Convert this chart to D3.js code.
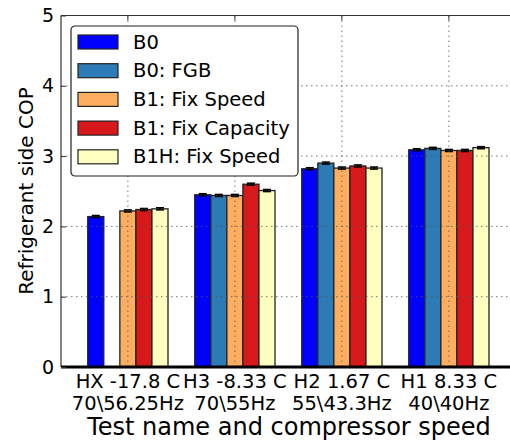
<!DOCTYPE html>
<html>
<head>
<meta charset="utf-8">
<script src="https://cdn.jsdelivr.net/npm/d3@7"></script>
<style>
  body { margin: 0; background: #fff; }
  svg text { font-family: "DejaVu Sans", sans-serif; fill: #000; }
</style>
</head>
<body>
<div id="chart"></div>
<script>
// data
var tests = ["HX -17.8 C", "H3 -8.33 C", "H2 1.67 C", "H1 8.33 C"];
var speeds = ["70\\56.25Hz", "70\\55Hz", "55\\43.3Hz", "40\\40Hz"];
var seriesNames = ["B0", "B0: FGB", "B1: Fix Speed", "B1: Fix Capacity", "B1H: Fix Speed"];
var seriesColors = ["#0000ff", "#2c7bb6", "#fdae61", "#d7191c", "#ffffbf"];
var b0 = [2.14, 2.45, 2.82, 3.09];
var b0fgb = [null, 2.44, 2.90, 3.11];
var b1FixSpeed = [2.22, 2.44, 2.83, 3.08];
var b1FixCap = [2.24, 2.60, 2.86, 3.08];
var b1hFixSpeed = [2.25, 2.51, 2.83, 3.12];
var err = [0.015, 0.015, 0.015, 0.015];
var yTicks = [0, 1, 2, 3, 4, 5];

var series = [b0, b0fgb, b1FixSpeed, b1FixCap, b1hFixSpeed];

var W = 510, H = 440;
var margin = {top: 15.5, left: 61, bottom: 73};
var barW = 0.15;

var svg = d3.select("#chart").append("svg")
    .attr("width", W)
    .attr("height", H);

// x in "group units": group i starts at i, bar j at i + j*barW
var x = d3.scaleLinear()
    .domain([-0.25, 4.0])
    .range([margin.left, margin.left + 4.25 * 107]);
var y = d3.scaleLinear()
    .domain([0, 5])
    .range([H - margin.bottom, margin.top]);

var tickPos = tests.map(function(d, i) { return i + 2.5 * barW; });

// bars
series.forEach(function(vals, j) {
    var data = vals.map(function(v, i) { return {i: i, v: v}; })
        .filter(function(d) { return d.v != null; });
    var g = svg.append("g");
    g.selectAll("rect")
        .data(data)
        .enter().append("rect")
        .attr("x", function(d) { return x(d.i + j * barW); })
        .attr("width", x(barW) - x(0))
        .attr("y", function(d) { return y(d.v); })
        .attr("height", function(d) { return y(0) - y(d.v); })
        .attr("fill", seriesColors[j])
        .attr("stroke", "#222")
        .attr("stroke-width", 1.3);
    // error bars
    var cx = function(d) { return x(d.i + (j + 0.5) * barW); };
    g.selectAll("line.err")
        .data(data)
        .enter().append("line")
        .attr("x1", cx).attr("x2", cx)
        .attr("y1", function(d) { return y(d.v - err[d.i]); })
        .attr("y2", function(d) { return y(d.v + err[d.i]); })
        .attr("stroke", "#000").attr("stroke-width", 1.5);
    ["-", "+"].forEach(function(s) {
        g.selectAll("line.cap" + (s == "-" ? "lo" : "hi"))
            .data(data)
            .enter().append("line")
            .attr("x1", function(d) { return cx(d) - 4; })
            .attr("x2", function(d) { return cx(d) + 4; })
            .attr("y1", function(d) { return y(s == "-" ? d.v - err[d.i] : d.v + err[d.i]); })
            .attr("y2", function(d) { return y(s == "-" ? d.v - err[d.i] : d.v + err[d.i]); })
            .attr("stroke", "#000").attr("stroke-width", 1.5);
    });
});

// grid (drawn on top, like old matplotlib)
var grid = svg.append("g")
    .attr("stroke", "#555")
    .attr("stroke-width", 1)
    .attr("stroke-dasharray", "1.5,3.5")
    .attr("opacity", 0.8);
yTicks.slice(1, 5).forEach(function(t) {
    grid.append("line")
        .attr("x1", x.range()[0]).attr("x2", x.range()[1])
        .attr("y1", y(t)).attr("y2", y(t));
});
tickPos.forEach(function(t) {
    grid.append("line")
        .attr("x1", x(t)).attr("x2", x(t))
        .attr("y1", y(5)).attr("y2", y(0));
});

// frame
svg.append("line")
    .attr("x1", x.range()[0]).attr("x2", x.range()[1])
    .attr("y1", y(5)).attr("y2", y(5))
    .attr("stroke", "#333").attr("stroke-width", 1.2);
svg.append("line")
    .attr("x1", x.range()[0]).attr("x2", x.range()[0])
    .attr("y1", y(5)).attr("y2", y(0))
    .attr("stroke", "#333").attr("stroke-width", 1.2);
svg.append("line")
    .attr("x1", x.range()[0]).attr("x2", x.range()[1])
    .attr("y1", y(0)).attr("y2", y(0))
    .attr("stroke", "#000").attr("stroke-width", 3);

// y axis
var yAxis = svg.append("g")
    .attr("transform", "translate(" + margin.left + ",0)")
    .call(d3.axisLeft(y).tickValues(yTicks).tickSize(-5).tickPadding(7).tickFormat(d3.format("d")));
yAxis.select(".domain").remove();
yAxis.selectAll(".tick line").attr("stroke", "#333");
yAxis.selectAll("text").style("font-size", "19px");

// x axis ticks (top, inward)
tickPos.forEach(function(t) {
    svg.append("line")
        .attr("x1", x(t)).attr("x2", x(t))
        .attr("y1", y(5)).attr("y2", y(5) + 5)
        .attr("stroke", "#333");
});

// x tick labels, two lines
var xl = svg.append("g").selectAll("text")
    .data(tests)
    .enter().append("text")
    .attr("text-anchor", "middle")
    .style("font-size", "19.5px");
xl.append("tspan")
    .attr("x", function(d, i) { return x(tickPos[i]); })
    .attr("y", 388)
    .text(function(d) { return d; });
xl.append("tspan")
    .attr("x", function(d, i) { return x(tickPos[i]); })
    .attr("y", 410)
    .text(function(d, i) { return speeds[i]; });

// axis labels
svg.append("text")
    .attr("x", 289).attr("y", 435)
    .attr("text-anchor", "middle")
    .style("font-size", "24px")
    .text("Test name and compressor speed");
svg.append("text")
    .attr("transform", "translate(33," + 191 + ") rotate(-90)")
    .attr("text-anchor", "middle")
    .style("font-size", "20px")
    .text("Refrigerant side COP");

// legend
var lg = svg.append("g").attr("transform", "translate(71,26)");
lg.append("rect")
    .attr("width", 227).attr("height", 150)
    .attr("rx", 4)
    .attr("fill", "#fff")
    .attr("stroke", "#222")
    .attr("stroke-width", 1.2);
seriesNames.forEach(function(name, j) {
    lg.append("rect")
        .attr("x", 7).attr("y", 9 + j * 28.7)
        .attr("width", 40).attr("height", 14)
        .attr("fill", seriesColors[j])
        .attr("stroke", "#222").attr("stroke-width", 1.2);
    lg.append("text")
        .attr("x", 62).attr("y", 22.5 + j * 28.7)
        .style("font-size", "19.5px")
        .text(name);
});
</script>
</body>
</html>
